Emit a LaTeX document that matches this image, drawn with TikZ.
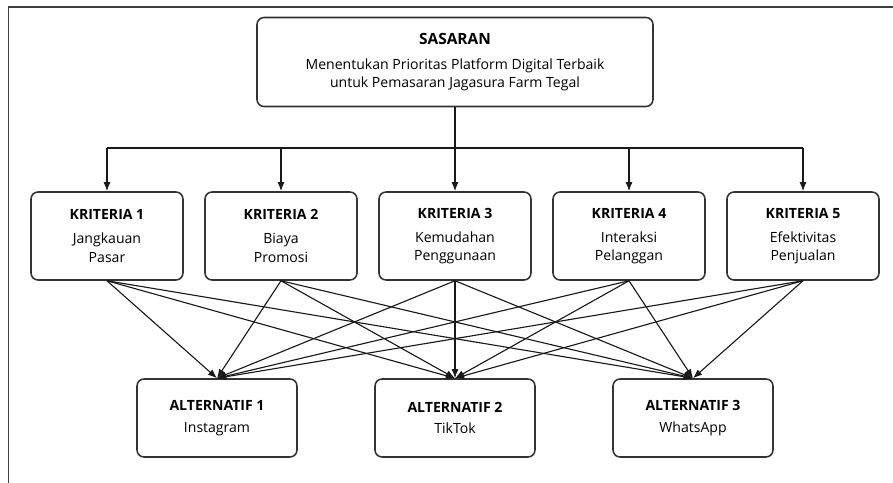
\documentclass[tikz,border=0pt]{standalone}
\usepackage{fontspec}
\setmainfont{Open Sans}
\usepackage{xcolor}
\usetikzlibrary{positioning,arrows.meta}

\begin{document}
\begin{tikzpicture}[node distance=4.35cm, auto,
    block/.style={rectangle, draw=black!80, line width=1.1pt, rounded corners=5pt, fill=white, align=center, font=\fontsize{10}{13}\selectfont},
    goal/.style={block, minimum width=9.9cm, minimum height=2.225cm},
    crit/.style={block, minimum width=3.8cm, minimum height=2.2cm},
    alt/.style={block, minimum width=4cm, minimum height=1.95cm},
    arrow/.style={-{Latex[length=6.5pt,width=5pt]}, line width=0.8pt, black!90},
    line/.style={line width=0.8pt, black!90}]

    \useasboundingbox (-11.375,1.55) rectangle (10.95,-10.525);
    \draw[line width=1.4pt, black!75] (-11.1625,-10.525) -- (-11.1625,1.375) -- (10.95,1.375);

    \node[goal] (goal) {{\fontsize{11}{13}\selectfont\textbf{SASARAN}}\\[4.8pt]
        Menentukan Prioritas Platform Digital Terbaik\\ untuk Pemasaran Jagasura Farm Tegal};

    \node[crit, below of=goal] (k3) {\textbf{KRITERIA 3}\\[4pt] Kemudahan\\ Penggunaan};
    \node[crit, left of=k3] (k2) {\textbf{KRITERIA 2}\\[4pt] Biaya\\ Promosi};
    \node[crit, left of=k2] (k1) {\textbf{KRITERIA 1}\\[4pt] Jangkauan\\ Pasar};
    \node[crit, right of=k3] (k4) {\textbf{KRITERIA 4}\\[4pt] Interaksi\\ Pelanggan};
    \node[crit, right of=k4] (k5) {\textbf{KRITERIA 5}\\[4pt] Efektivitas\\ Penjualan};

    \node[alt, below of=k3, yshift=-0.2cm] (a2) {\textbf{ALTERNATIF 2}\\[2.6pt] TikTok};
    \node[alt, left of=a2, xshift=-1.6cm] (a1) {\textbf{ALTERNATIF 1}\\[2.6pt] Instagram};
    \node[alt, right of=a2, xshift=1.6cm] (a3) {\textbf{ALTERNATIF 3}\\[2.6pt] WhatsApp};

    % sasaran ke kriteria
    \coordinate (split) at ([yshift=-2.15cm]goal.center);
    \draw[line] (goal.south) -- (split);
    \draw[line] (split -| k1) -- (split -| k5);
    \draw[arrow] (split -| k1) -- (k1.north);
    \draw[arrow] (split -| k2) -- (k2.north);
    \draw[arrow] (split) -- (k3.north);
    \draw[arrow] (split -| k4) -- (k4.north);
    \draw[arrow] (split -| k5) -- (k5.north);

    % kriteria ke alternatif
    \draw[arrow] (k1.south) -- (a1.north);
    \draw[arrow] (k1.south) -- (a2.north);
    \draw[arrow] (k1.south) -- (a3.north);
    \draw[arrow] (k2.south) -- (a1.north);
    \draw[arrow] (k2.south) -- (a2.north);
    \draw[arrow] (k2.south) -- (a3.north);
    \draw[arrow] (k3.south) -- (a1.north);
    \draw[arrow] (k3.south) -- (a2.north);
    \draw[arrow] (k3.south) -- (a3.north);
    \draw[arrow] (k4.south) -- (a1.north);
    \draw[arrow] (k4.south) -- (a2.north);
    \draw[arrow] (k4.south) -- (a3.north);
    \draw[arrow] (k5.south) -- (a1.north);
    \draw[arrow] (k5.south) -- (a2.north);
    \draw[arrow] (k5.south) -- (a3.north);
\end{tikzpicture}
\end{document}
